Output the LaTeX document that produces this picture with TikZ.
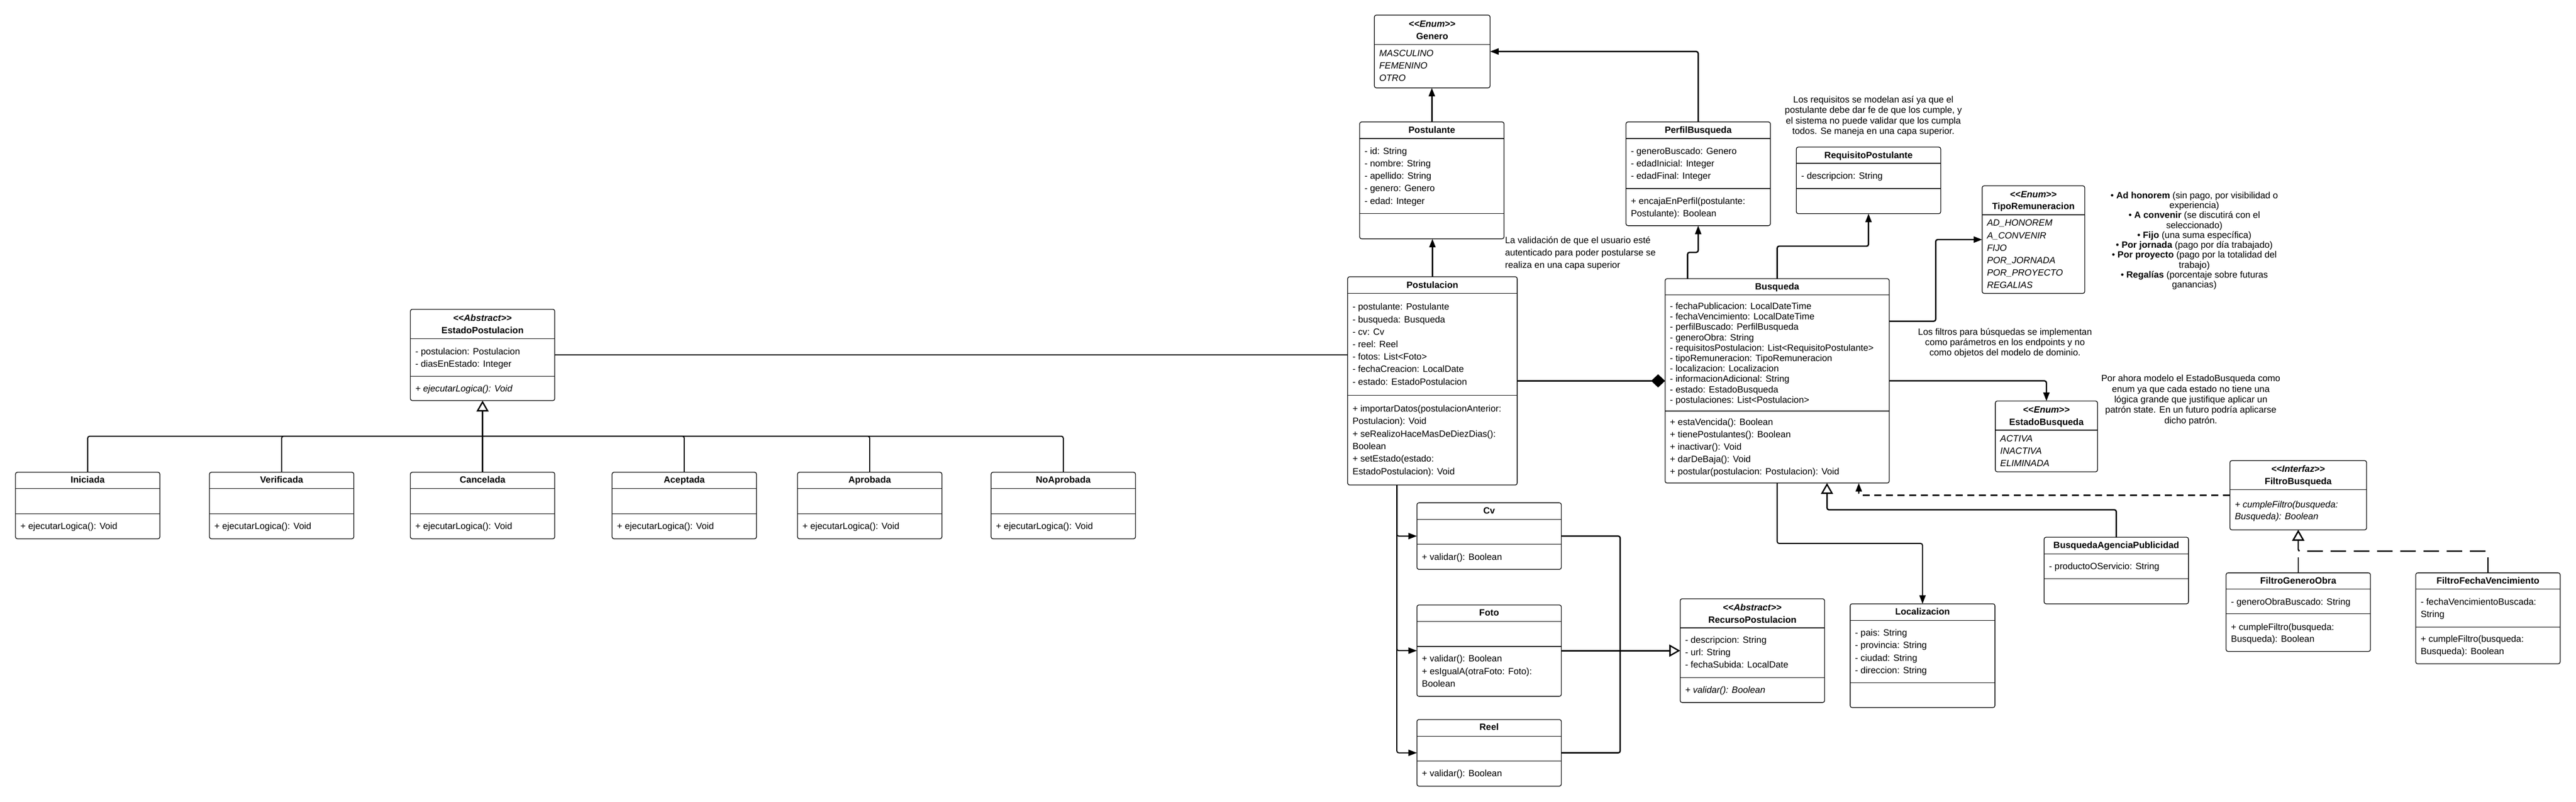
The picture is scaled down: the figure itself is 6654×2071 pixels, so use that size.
\documentclass[tikz,border=0pt]{standalone}
\usepackage{fontspec}
\setmainfont{Liberation Sans}
\usetikzlibrary{arrows.meta,fit,calc}
\newcommand\fsz{\fontsize{6.7pt}{8pt}\selectfont}
\newcommand\stereo[1]{<{}<\textit{#1}>{}>}
\tikzset{
 ubox/.style={draw, line width=0.5pt, rounded corners=0.05cm, fill=white, inner sep=0pt, outer sep=0pt},
 udiv/.style={line width=0.5pt},
 hdrtxt/.style={font=\fsz\bfseries, inner sep=0pt, anchor=base},
 memtxt/.style={font=\fsz, inner sep=0pt, anchor=base west},
 conn/.style={line width=1pt, rounded corners=0.05cm},
 thinconn/.style={line width=0.8pt, rounded corners=0.05cm},
 arrfill/.style={-{Triangle[length=0.22cm,width=0.16cm]}},
 arrgen/.style={-{Triangle[open,length=0.28cm,width=0.31cm,fill=white]}},
 arrcomp/.style={-{Diamond[length=0.36cm,width=0.34cm]}},
 dashdep/.style={dash pattern=on 0.18cm off 0.12cm},
 dashreal/.style={dash pattern=on 0.40cm off 0.20cm},
 notetxt/.style={inner sep=0pt, align=center, font=\fontsize{6.7pt}{7.68pt}\selectfont},
}
\newcommand\uclass[6]{%
  \node[ubox, fit={(#2,#3) (#4,#5)}] (#1) {};
  \foreach \dy in {#6} {\draw[udiv] (#2,\dy) -- (#4,\dy);}
}
\newcommand\uhead[4]{%
  \foreach \tx [count=\i] in {#4} {\node[hdrtxt, yshift=-0.07cm] (#1-h\i) at ($(#1.north |- 0,#2)+(0,{(\i-1)*#3})$) {\tx};}
}
\newcommand\umem[5]{%
  \foreach \tx [count=\i] in {#5} {\node[memtxt, yshift=-0.07cm] (#1-\i) at ($(#2.west |- 0,#3)+(12,{(\i-1)*#4})$) {\tx};}
}
\newcommand\usub[3]{%
  \uclass{#1}{#2}{1220}{#2+373}{1392}{1262,1327}
  \uhead{#1}{1241}{32}{#3}
  \umem{#1-m}{#1}{1361}{32}{+ ejecutarLogica(): Void}
}
\begin{document}
\begin{tikzpicture}[x=0.01cm, y=-0.01cm]
\useasboundingbox (0,0) rectangle (6654,2071);

% ---------- classes ----------
\uclass{genero}{3550}{39}{3849}{227}{115}
\uhead{genero}{63}{32}{{\stereo{Enum}},Genero}
\umem{genero-a}{genero}{139}{32}{{\itshape MASCULINO},{\itshape FEMENINO},{\itshape OTRO}}

\uclass{postulante}{3512}{315}{3885}{617}{358,552}
\uhead{postulante}{337}{32}{Postulante}
\umem{postulante-a}{postulante}{392}{32}{- id: String,- nombre: String,- apellido: String,- genero: Genero,- edad: Integer}

\uclass{perfil}{4200}{315}{4573}{583}{358,487}
\uhead{perfil}{337}{32}{PerfilBusqueda}
\umem{perfil-a}{perfil}{392}{32}{- generoBuscado: Genero,- edadInicial: Integer,- edadFinal: Integer}
\umem{perfil-m}{perfil}{520}{32.5}{+ encajaEnPerfil(postulante:,Postulante): Boolean}

\uclass{requisito}{4640}{380}{5013}{552}{422,487}
\uhead{requisito}{402}{32}{RequisitoPostulante}
\umem{requisito-a}{requisito}{456}{32}{- descripcion: String}

\uclass{tiporem}{5120}{480}{5385}{758}{555}
\uhead{tiporem}{503}{31}{{\stereo{Enum}},TipoRemuneracion}
\umem{tiporem-a}{tiporem}{577}{32.2}{{\itshape AD\_HONOREM},{\itshape A\_CONVENIR},{\itshape FIJO},{\itshape POR\_JORNADA},{\itshape POR\_PROYECTO},{\itshape REGALIAS}}

\uclass{postulacion}{3481}{715}{3919}{1253}{758,1021}
\uhead{postulacion}{737}{32}{Postulacion}
\umem{postulacion-a}{postulacion}{794}{32.2}{- postulante: Postulante,- busqueda: Busqueda,- cv: Cv,- reel: Reel,- fotos: List<Foto>,- fechaCreacion: LocalDate,- estado: EstadoPostulacion}
\umem{postulacion-m}{postulacion}{1057}{32.4}{+ importarDatos(postulacionAnterior:,Postulacion): Void,+ seRealizoHaceMasDeDiezDias():,Boolean,+ setEstado(estado:,EstadoPostulacion): Void}

\uclass{busqueda}{4301}{720}{4880}{1248}{762,1062}
\uhead{busqueda}{742}{32}{Busqueda}
\umem{busqueda-a}{busqueda}{792}{26.9}{- fechaPublicacion: LocalDateTime,- fechaVencimiento: LocalDateTime,- perfilBuscado: PerfilBusqueda,- generoObra: String,- requisitosPostulacion: List<RequisitoPostulante>,- tipoRemuneracion: TipoRemuneracion,- localizacion: Localizacion,- informacionAdicional: String,- estado: EstadoBusqueda,- postulaciones: List<Postulacion>}
\umem{busqueda-m}{busqueda}{1091}{32.2}{+ estaVencida(): Boolean,+ tienePostulantes(): Boolean,+ inactivar(): Void,+ darDeBaja(): Void,+ postular(postulacion: Postulacion): Void}

\uclass{estadobusq}{5154}{1036}{5418}{1219}{1111}
\uhead{estadobusq}{1059}{32}{{\stereo{Enum}},EstadoBusqueda}
\umem{estadobusq-a}{estadobusq}{1134}{32}{{\itshape ACTIVA},{\itshape INACTIVA},{\itshape ELIMINADA}}

\uclass{filtro}{5760}{1190}{6113}{1369}{1265}
\uhead{filtro}{1213}{32}{{\stereo{Interfaz}},FiltroBusqueda}
\umem{filtro-m}{filtro}{1304}{31}{{\itshape + cumpleFiltro(busqueda:},{\itshape Busqueda): Boolean}}

\uclass{agencia}{5280}{1388}{5653}{1560}{1431,1495}
\uhead{agencia}{1410}{32}{BusquedaAgenciaPublicidad}
\umem{agencia-a}{agencia}{1464}{32}{- productoOServicio: String}

\uclass{fgenero}{5750}{1480}{6123}{1683}{1522,1586}
\uhead{fgenero}{1501}{32}{FiltroGeneroObra}
\umem{fgenero-a}{fgenero}{1556}{32}{- generoObraBuscado: String}
\umem{fgenero-m}{fgenero}{1621}{31}{+ cumpleFiltro(busqueda:,Busqueda): Boolean}

\uclass{ffecha}{6240}{1480}{6613}{1715}{1522,1620}
\uhead{ffecha}{1501}{32}{FiltroFechaVencimiento}
\umem{ffecha-a}{ffecha}{1556}{32}{- fechaVencimientoBuscada:,String}
\umem{ffecha-m}{ffecha}{1652}{32}{+ cumpleFiltro(busqueda:,Busqueda): Boolean}

\uclass{localizacion}{4779}{1560}{5153}{1828}{1603,1764}
\uhead{localizacion}{1581}{32}{Localizacion}
\umem{localizacion-a}{localizacion}{1636}{32.3}{- pais: String,- provincia: String,- ciudad: String,- direccion: String}

\uclass{recurso}{4340}{1547}{4713}{1815}{1622,1751}
\uhead{recurso}{1570}{32}{{\stereo{Abstract}},RecursoPostulacion}
\umem{recurso-a}{recurso}{1655}{32}{- descripcion: String,- url: String,- fechaSubida: LocalDate}
\umem{recurso-m}{recurso}{1784}{32}{{\itshape + validar(): Boolean}}

\uclass{cv}{3660}{1299}{4033}{1471}{1342,1406}
\uhead{cv}{1320}{32}{Cv}
\umem{cv-m}{cv}{1440}{32}{+ validar(): Boolean}

\uclass{foto}{3660}{1563}{4033}{1799}{1606,1670}
\uhead{foto}{1584}{32}{Foto}
\umem{foto-m}{foto}{1703}{32.5}{+ validar(): Boolean,+ esIgualA(otraFoto: Foto):,Boolean}

\uclass{reel}{3660}{1859}{4033}{2031}{1902,1966}
\uhead{reel}{1880}{32}{Reel}
\umem{reel-m}{reel}{1999}{32}{+ validar(): Boolean}

\uclass{estadopost}{1060}{799}{1433}{1035}{875,972}
\uhead{estadopost}{823}{32}{{\stereo{Abstract}},EstadoPostulacion}
\umem{estadopost-a}{estadopost}{909}{32}{- postulacion: Postulacion,- diasEnEstado: Integer}
\umem{estadopost-m}{estadopost}{1005}{32}{{\itshape + ejecutarLogica(): Void}}

\usub{iniciada}{40}{Iniciada}
\usub{verificada}{541}{Verificada}
\usub{cancelada}{1060}{Cancelada}
\usub{aceptada}{1581}{Aceptada}
\usub{aprobada}{2060}{Aprobada}
\usub{noaprobada}{2560}{NoAprobada}

% ---------- notes ----------
\node[notetxt] (note-req) at (4839,300) {Los requisitos se modelan así ya que el\\postulante debe dar fe de que los cumple, y\\el sistema no puede validar que los cumpla\\todos. Se maneja en una capa superior.};
\node[notetxt, align=left, anchor=west, font=\fontsize{6.7pt}{9.1pt}\selectfont] (note-val) at (3887,654) {La validación de que el usuario esté\\autenticado para poder postularse se\\realiza en una capa superior};
\node[notetxt, font=\fontsize{6.7pt}{7.31pt}\selectfont] (note-rem) at (5668,622) {• \textbf{Ad honorem} (sin pago, por visibilidad o\\experiencia)\\• \textbf{A convenir} (se discutirá con el\\seleccionado)\\• \textbf{Fijo} (una suma específica)\\• \textbf{Por jornada} (pago por día trabajado)\\• \textbf{Por proyecto} (pago por la totalidad del\\trabajo)\\• \textbf{Regalías} (porcentaje sobre futuras\\ganancias)};
\node[notetxt] (note-filtros) at (5179,886) {Los filtros para búsquedas se implementan\\como parámetros en los endpoints y no\\como objetos del modelo de dominio.};
\node[notetxt] (note-estado) at (5659,1034) {Por ahora modelo el EstadoBusqueda como\\enum ya que cada estado no tiene una\\lógica grande que justifique aplicar un\\patrón state. En un futuro podría aplicarse\\dicho patrón.};

% ---------- connectors ----------
\draw[conn, arrfill] (postulante.north) -- (postulante.north |- genero.south);
\draw[conn, arrfill] (perfil.north) |- (genero.east);
\draw[conn, arrfill] (postulacion.north) -- (postulacion.north |- postulante.south);
\draw[conn, arrfill] ([xshift=0.58cm]busqueda.north west) -- ++(0,-68) -| (perfil.south);
\draw[conn, arrfill] (busqueda.north) -- ++(0,-84) -| (requisito.south);
\draw[conn, arrfill] ([yshift=1.54cm]busqueda.east) -- ++(120,0) |- (tiporem.west);
\draw[conn, arrfill] (busqueda.east) -| (estadobusq.north);
\draw[conn, arrcomp] (postulacion.east) -- (busqueda.west);
\draw[conn] (estadopost.east) -- (estadopost.east -| postulacion.west);

\coordinate (bus) at (cancelada.north |- 0,1127);
\draw[conn, arrgen] (cancelada.north) -- (estadopost.south);
\foreach \s in {iniciada,verificada,aceptada,aprobada,noaprobada} {\draw[thinconn] (\s.north) |- (bus);}

\draw[thinconn, arrfill] ([xshift=1.27cm]postulacion.south west) |- (cv.west);
\draw[thinconn, arrfill] ([xshift=1.27cm]postulacion.south west) |- (foto.west);
\draw[thinconn, arrfill] ([xshift=1.27cm]postulacion.south west) |- (reel.west);
\draw[conn] (cv.east) -- ++(152,0) |- (reel.east);
\draw[conn, arrgen] (foto.east) -- (recurso.west);

\draw[thinconn, arrfill] (busqueda.south) -- ++(0,156) -| (localizacion.north);
\draw[conn, arrgen] (agencia.north) -- ++(0,-71) -| ([xshift=4.18cm]busqueda.south west);
\draw[conn, dashdep, arrfill] (filtro.west) -| ([xshift=5cm]busqueda.south west);
\draw[conn, dashreal, arrgen] (fgenero.north) -- (filtro.south);
\draw[conn, dashreal, arrgen] (ffecha.north) -- ++(0,-56) -| (filtro.south);
\end{tikzpicture}
\end{document}
